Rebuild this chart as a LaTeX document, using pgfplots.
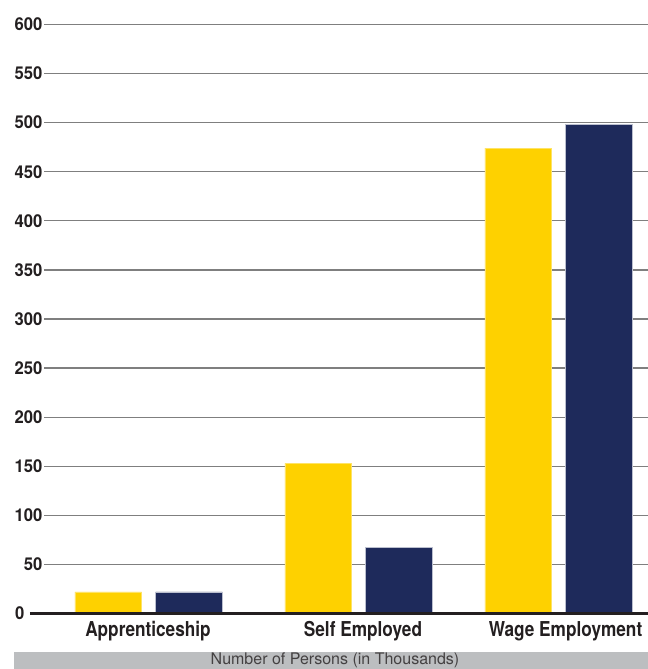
\documentclass[border=0pt]{standalone}
\usepackage{pgfplots}
\pgfplotsset{compat=1.18}
\usepackage{fontspec}
\setmainfont{TeX Gyre Heros}
\newfontfamily\tickfont{TeX Gyre Heros}[FakeStretch=0.94]
\newfontfamily\catfont{TeX Gyre Heros}[FakeStretch=0.84]
\definecolor{barYellow}{HTML}{FED100}
\definecolor{barNavy}{HTML}{1E2A5B}
\definecolor{inkDark}{HTML}{231F20}
\definecolor{bandGray}{HTML}{BCBEC0}
\definecolor{gridGray}{HTML}{7F7F7F}

\begin{document}
\begin{tikzpicture}
\useasboundingbox (0,0) rectangle (648bp,669bp);
% grey band holding the axis note
\fill[bandGray] (14bp,0) rectangle (648bp,17bp);
\node[text=inkDark!85, inner sep=0pt, font=\fontsize{16bp}{17bp}\selectfont] at (335bp,8.3bp) {Number of Persons (in Thousands)};
\begin{axis}[
  at={(44bp,55.5bp)}, anchor=south west,
  scale only axis, width=604bp, height=589bp,
  xmin=44, xmax=648, ymin=0, ymax=600,
  axis line style={draw=none},
  major tick length=0pt,
  ytick={50,100,...,600},
  extra y ticks={0},
  extra y tick style={grid=none, yticklabel style={xshift=-18bp}},
  ymajorgrids,
  grid style={gridGray, line width=1.2bp},
  xtick={148,363,565.5},
  xticklabels={Apprenticeship, Self Employed, Wage Employment},
  xticklabel style={font=\catfont\bfseries\fontsize{20.5bp}{22bp}\selectfont, text=inkDark, anchor=base, inner sep=0pt, yshift=-22.5bp},
  yticklabel style={font=\tickfont\bfseries\fontsize{17.7bp}{19bp}\selectfont, text=inkDark, anchor=east, inner sep=0pt, xshift=-1.5bp},
  /pgf/number format/assume math mode=true,
  ybar, bar width=66.7,
  clip=false,
]
\addplot[fill=barYellow, draw=barYellow!60!white, line width=0.6bp, bar shift=-40.35] coordinates {(148.65,22) (358.65,153) (558.65,474)};
\addplot[fill=barNavy, draw=barNavy!30!white, line width=0.6bp, bar shift=40.35] coordinates {(148.65,22) (358.65,67) (558.65,498)};
\draw[inkDark, line width=3bp] (axis cs:30,0) -- (axis cs:648,0);
\end{axis}
\end{tikzpicture}
\end{document}
